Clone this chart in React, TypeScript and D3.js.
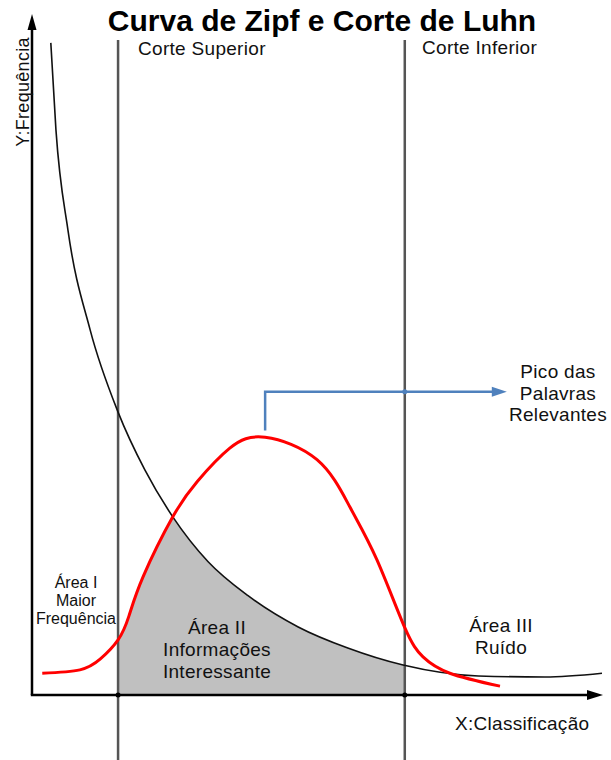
import React from "react";
import * as d3 from "d3";

const zipfRank = [3.3, 4.2, 6.3, 10.2, 15.1, 19.8, 24.7, 30.9, 37.9, 46.7, 55.4, 65.1, 78.3, 90.0, 100];
const zipfFreq = [95.9, 83.1, 68.4, 53.7, 41.6, 33.1, 26.2, 19.6, 14.6, 10.0, 6.9, 4.4, 2.8, 2.65, 3.2];
const luhnRank = [1.8, 8.4, 12.0, 15.1, 17.0, 19.5, 24.7, 29.0, 34.7, 40.9, 50.0, 55.8, 60.5, 65.4, 68.6, 73.3, 82.1];
const luhnFreq = [3.2, 3.7, 5.3, 8.1, 11.6, 17.4, 26.2, 31.4, 36.3, 37.9, 34.6, 27.6, 19.9, 9.9, 5.6, 3.2, 1.3];
const cutRanks = [15.1, 65.4];
const cutLabels = ["Corte Superior", "Corte Inferior"];
const peakRank = 40.9;
const peakLabelLines = ["Pico das", "Palavras", "Relevantes"];
const area1Lines = ["Área I", "Maior", "Frequência"];
const area2Lines = ["Área II", "Informações", "Interessante"];
const area3Lines = ["Área III", "Ruído"];
const title = "Curva de Zipf e Corte de Luhn";
const xLabel = "X:Classificação";
const yLabel = "Y:Frequência";

const W = 611;
const H = 760;
const FONT = "'Liberation Sans', Arial, Helvetica, sans-serif";

export default function App() {
  const x = d3.scaleLinear().domain([0, 100]).range([32, 602]);
  const y = d3.scaleLinear().domain([0, 100]).range([695, 15]);

  const zipf = zipfRank.map((r, i) => [r, zipfFreq[i]] as [number, number]);
  const luhn = luhnRank.map((r, i) => [r, luhnFreq[i]] as [number, number]);

  const mkLine = (curve: any) =>
    d3
      .line<[number, number]>()
      .x((d) => x(d[0]))
      .y((d) => y(d[1]))
      .curve(curve);
  const mkArea = (curve: any) =>
    d3
      .area<[number, number]>()
      .x((d) => x(d[0]))
      .y0(y(0))
      .y1((d) => y(d[1]))
      .curve(curve);
  const zipfCurve = d3.curveMonotoneX;
  const luhnCurve = d3.curveNatural;

  const textColor = "#111";
  const peakY = y(38.9);
  const armY = y(44.6);
  const arrowTip = x(83.3);

  return (
    <svg
      width={W}
      height={H}
      style={{ position: "absolute", left: 0, top: 0, display: "block", background: "#fff" }}
      fontFamily={FONT}
    >
      <defs>
        <clipPath id="underZipf">
          <path d={mkArea(zipfCurve)(zipf) || ""} />
        </clipPath>
        <clipPath id="underLuhn">
          <path d={mkArea(luhnCurve)(luhn) || ""} />
        </clipPath>
      </defs>

      {/* Área II shading */}
      <g clipPath="url(#underZipf)">
        <rect
          x={x(cutRanks[0])}
          y={0}
          width={x(cutRanks[1]) - x(cutRanks[0])}
          height={y(0)}
          fill="#c0c0c0"
          clipPath="url(#underLuhn)"
        />
      </g>

      {/* cut lines */}
      {cutRanks.map((c, i) => (
        <line key={i} x1={x(c)} x2={x(c)} y1={40} y2={H} stroke="#555" strokeWidth={2.5} />
      ))}

      {/* zipf curve */}
      <path d={mkLine(zipfCurve)(zipf) || ""} fill="none" stroke="#111" strokeWidth={1.6} />
      {/* luhn curve */}
      <path d={mkLine(luhnCurve)(luhn) || ""} fill="none" stroke="#ff0000" strokeWidth={3} />

      {/* axes */}
      <line x1={x(0)} x2={x(0)} y1={y(0)} y2={28} stroke="#000" strokeWidth={2.5} />
      <path d={`M${x(0)},14 L${x(0) - 4.5},30 L${x(0) + 4.5},30 Z`} fill="#000" />
      <line x1={x(0) - 1.2} x2={590} y1={y(0)} y2={y(0)} stroke="#000" strokeWidth={2.5} />
      <path d={`M603,${y(0)} L587,${y(0) - 5} L587,${y(0) + 5} Z`} fill="#000" />
      {cutRanks.map((c, i) => (
        <circle key={i} cx={x(c)} cy={y(0)} r={2.5} fill="#000" />
      ))}

      {/* peak annotation */}
      <path
        d={`M${x(peakRank)},${peakY} L${x(peakRank)},${armY} L${arrowTip - 14},${armY}`}
        fill="none"
        stroke="#4f81bd"
        strokeWidth={2.5}
      />
      <path d={`M${arrowTip},${armY} L${arrowTip - 15},${armY - 5} L${arrowTip - 15},${armY + 5} Z`} fill="#4f81bd" />
      <circle cx={x(cutRanks[1])} cy={armY} r={2.5} fill="#4f81bd" />

      {/* texts */}
      <text x={322} y={31} textAnchor="middle" fontSize={30} fontWeight="bold" fill="#000">
        {title}
      </text>
      <text x={138} y={55} fontSize={19} fill={textColor} letterSpacing={0.3}>
        {cutLabels[0]}
      </text>
      <text x={422} y={54} fontSize={19} fill={textColor} letterSpacing={0.3}>
        {cutLabels[1]}
      </text>
      <text
        transform={`translate(29,92) rotate(-90)`}
        textAnchor="middle"
        fontSize={18}
        fill={textColor}
        letterSpacing={0.3}
      >
        {yLabel}
      </text>
      <text x={455} y={730} fontSize={19} fill={textColor} letterSpacing={0.3}>
        {xLabel}
      </text>
      {peakLabelLines.map((t, i) => (
        <text key={i} x={558} y={378 + i * 21.5} textAnchor="middle" fontSize={19} fill={textColor} letterSpacing={0.3}>
          {t}
        </text>
      ))}
      {area1Lines.map((t, i) => (
        <text key={i} x={76} y={588 + i * 18} textAnchor="middle" fontSize={16} fill={textColor}>
          {t}
        </text>
      ))}
      {area2Lines.map((t, i) => (
        <text key={i} x={217} y={634 + i * 22} textAnchor="middle" fontSize={19} fill={textColor} letterSpacing={0.3}>
          {t}
        </text>
      ))}
      {area3Lines.map((t, i) => (
        <text key={i} x={501} y={632 + i * 22} textAnchor="middle" fontSize={19} fill={textColor} letterSpacing={0.3}>
          {t}
        </text>
      ))}
    </svg>
  );
}
